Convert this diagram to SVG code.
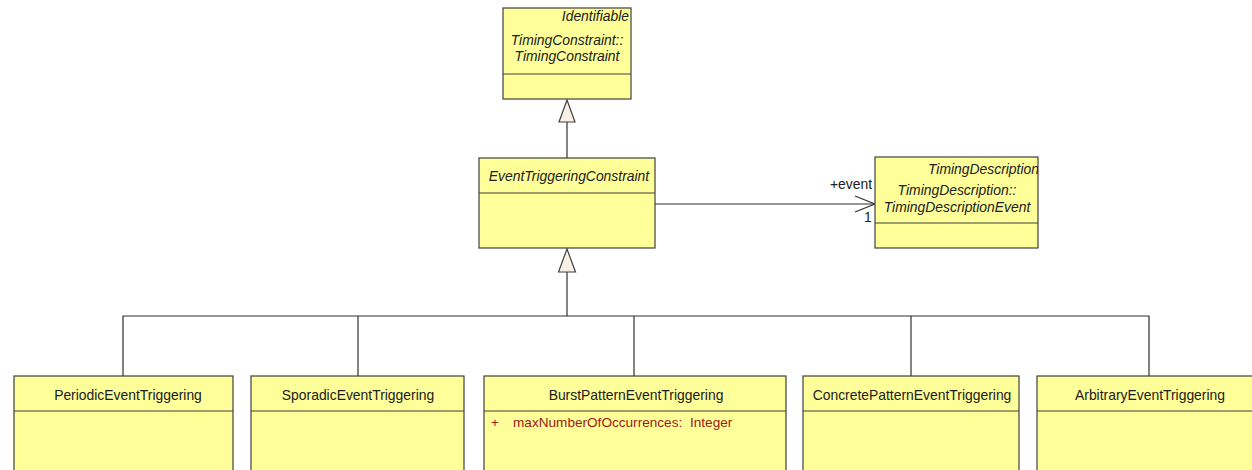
<svg xmlns="http://www.w3.org/2000/svg" width="1252" height="470" viewBox="0 0 1252 470">
<style>
.box{fill:#ffff99;stroke:#404040;stroke-width:1.2}
.sep{stroke:#404040;stroke-width:1.2}
.t{font-family:"Liberation Sans",Arial,sans-serif;font-size:13.9px;fill:#202020}
.i{font-style:italic}
.attr{font-family:"Liberation Sans",Arial,sans-serif;font-size:13.6px;fill:#a01818}
.ln{stroke:#303030;stroke-width:1.2;fill:none}
.gen{fill:#f8f0e4;stroke:#404040;stroke-width:1.2}
</style>
<rect width="1252" height="470" fill="#ffffff"/>
<g id="connectors">
<line class="ln" x1="567" y1="122" x2="567" y2="158"/>
<polygon class="gen" points="567,100 559,122 575,122"/>
<line class="ln" x1="567" y1="272" x2="567" y2="316"/>
<polygon class="gen" points="567,249 558.5,272 575.5,272"/>
<polyline class="ln" points="123,376 123,316 1149,316 1149,376"/>
<line class="ln" x1="358" y1="316" x2="358" y2="376"/>
<line class="ln" x1="634" y1="316" x2="634" y2="376"/>
<line class="ln" x1="911" y1="316" x2="911" y2="376"/>
<line class="ln" x1="655" y1="204" x2="875" y2="204"/>
<polyline class="ln" points="855,196 875,204 855,212"/>
<text class="t" x="872" y="189" text-anchor="end">+event</text>
<text class="t" x="864" y="222">1</text>
</g>
<g id="TimingConstraint">
<rect class="box" x="503" y="8" width="128" height="91"/>
<line class="sep" x1="503" y1="74" x2="631" y2="74"/>
<text class="t i" x="629" y="21" text-anchor="end">Identifiable</text>
<text class="t i" x="567" y="45" text-anchor="middle">TimingConstraint::</text>
<text class="t i" x="567" y="61" text-anchor="middle">TimingConstraint</text>
</g>
<g id="EventTriggeringConstraint">
<rect class="box" x="479" y="158" width="176" height="90"/>
<line class="sep" x1="479" y1="193" x2="655" y2="193"/>
<text class="t i" x="569" y="181" text-anchor="middle">EventTriggeringConstraint</text>
</g>
<g id="TimingDescriptionEvent">
<rect class="box" x="875" y="157" width="163" height="91"/>
<line class="sep" x1="875" y1="223" x2="1038" y2="223"/>
<svg x="875" y="157" width="163" height="91" overflow="hidden">
<text class="t i" x="164" y="17" text-anchor="end">TimingDescription</text>
</svg>
<text class="t i" x="957" y="195" text-anchor="middle">TimingDescription::</text>
<text class="t i" x="957" y="212" text-anchor="middle">TimingDescriptionEvent</text>
</g>
<g id="PeriodicEventTriggering">
<rect class="box" x="14" y="376" width="219" height="110"/>
<line class="sep" x1="14" y1="411" x2="233" y2="411"/>
<text class="t" x="128" y="400" text-anchor="middle">PeriodicEventTriggering</text>
</g>
<g id="SporadicEventTriggering">
<rect class="box" x="251" y="376" width="213" height="110"/>
<line class="sep" x1="251" y1="411" x2="464" y2="411"/>
<text class="t" x="358" y="400" text-anchor="middle">SporadicEventTriggering</text>
</g>
<g id="BurstPatternEventTriggering">
<rect class="box" x="484" y="376" width="302" height="110"/>
<line class="sep" x1="484" y1="411" x2="786" y2="411"/>
<text class="t" x="636" y="400" text-anchor="middle">BurstPatternEventTriggering</text>
<text class="attr" x="491" y="427">+</text>
<text class="attr" x="513" y="427">maxNumberOfOccurrences:</text>
<text class="attr" x="690" y="427">Integer</text>
</g>
<g id="ConcretePatternEventTriggering">
<rect class="box" x="803" y="376" width="216" height="110"/>
<line class="sep" x1="803" y1="411" x2="1019" y2="411"/>
<text class="t" x="912" y="400" text-anchor="middle">ConcretePatternEventTriggering</text>
</g>
<g id="ArbitraryEventTriggering">
<rect class="box" x="1037" y="376" width="224" height="110"/>
<line class="sep" x1="1037" y1="411" x2="1261" y2="411"/>
<text class="t" x="1150" y="400" text-anchor="middle">ArbitraryEventTriggering</text>
</g>
</svg>
